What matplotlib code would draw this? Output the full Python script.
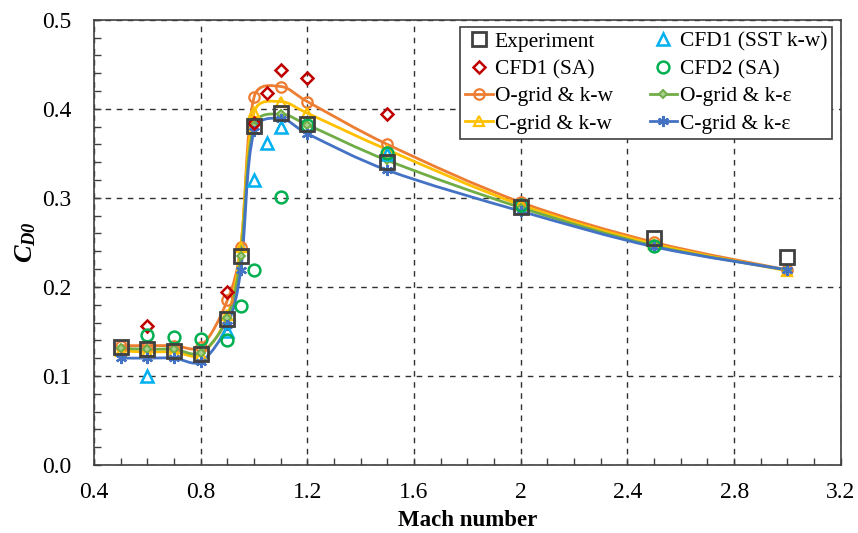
import matplotlib
matplotlib.use('Agg')
import matplotlib.pyplot as plt
import numpy as np
from matplotlib.path import Path
from matplotlib.patches import PathPatch
from matplotlib.lines import Line2D
from matplotlib.ticker import MultipleLocator

plt.rcParams['font.family'] = ['Liberation Serif', 'DejaVu Serif']
plt.rcParams['mathtext.fontset'] = 'custom'
plt.rcParams['mathtext.rm'] = 'Liberation Serif:italic:bold'
plt.rcParams['mathtext.it'] = 'Liberation Serif:italic:bold'

# 数据
mach = [0.5, 0.6, 0.7, 0.8, 0.9, 0.95, 1.0, 1.1, 1.2, 1.5, 2.0, 2.5, 3.0]
experiment = [0.133, 0.130, 0.128, 0.125, 0.164, 0.235, 0.381, 0.395, 0.383, 0.340, 0.290, 0.255, 0.234]

o_grid_kw = [0.134, 0.134, 0.134, 0.133, 0.185, 0.245, 0.413, 0.425, 0.408, 0.360, 0.295, 0.250, 0.219]
c_grid_kw = [0.128, 0.127, 0.127, 0.124, 0.168, 0.245, 0.396, 0.408, 0.395, 0.354, 0.292, 0.248, 0.218]
o_grid_ke = [0.131, 0.130, 0.130, 0.126, 0.165, 0.235, 0.381, 0.394, 0.382, 0.342, 0.289, 0.246, 0.219]
c_grid_ke = [0.120, 0.120, 0.120, 0.116, 0.157, 0.219, 0.375, 0.389, 0.372, 0.331, 0.285, 0.245, 0.219]

cfd1_sa_mach = [0.6, 0.9, 1.0, 1.05, 1.1, 1.2, 1.5]
cfd1_sa = [0.156, 0.194, 0.384, 0.418, 0.444, 0.434, 0.394]

cfd1_sst_mach = [0.6, 0.9, 1.0, 1.05, 1.1, 1.5]
cfd1_sst = [0.100, 0.151, 0.320, 0.362, 0.379, 0.349]

cfd2_sa_mach = [0.6, 0.7, 0.8, 0.9, 0.95, 1.0, 1.1, 1.2, 1.5, 2.0, 2.5]
cfd2_sa = [0.146, 0.144, 0.141, 0.140, 0.179, 0.219, 0.301, 0.382, 0.350, 0.292, 0.246]


def smooth_path(ax, xs, ys):
    """平滑曲线：三次Bezier，切线长度按屏幕上相邻线段长度调整"""
    pts = ax.transData.transform(np.column_stack([xs, ys]))
    n = len(pts)
    verts = [pts[0]]
    codes = [Path.MOVETO]
    for i in range(n - 1):
        p0 = pts[max(i - 1, 0)]
        p1 = pts[i]
        p2 = pts[i + 1]
        p3 = pts[min(i + 2, n - 1)]
        d01 = np.hypot(*(p1 - p0))
        d12 = np.hypot(*(p2 - p1))
        d23 = np.hypot(*(p3 - p2))
        f1 = np.sqrt(2 * d12 / (d01 + d12)) / 6 if d01 > 0 else 1 / 6
        f2 = np.sqrt(2 * d12 / (d12 + d23)) / 6 if d23 > 0 else 1 / 6
        c1 = p1 + (p2 - p0) * f1
        c2 = p2 - (p3 - p1) * f2
        verts += [c1, c2, p2]
        codes += [Path.CURVE4] * 3
    verts = ax.transData.inverted().transform(np.array(verts))
    return Path(verts, codes)


fig = plt.figure(figsize=(8.58, 5.33), dpi=100)
ax = fig.add_axes([0.1096, 0.1276, 0.8704, 0.8354])
ax.set_xlim(0.4, 3.2)
ax.set_ylim(0.0, 0.5)

line_styles = [
    ('O-grid & k-w', o_grid_kw, '#ED7D31', dict(marker='o', ms=7.5, mfc='none', mew=1.6)),
    ('C-grid & k-w', c_grid_kw, '#FFC000', dict(marker='^', ms=7.5, mfc='none', mew=1.6)),
    ('O-grid & k-ε', o_grid_ke, '#70AD47', dict(marker='D', ms=4, mfc='#A9D18E', mew=1.4)),
    ('C-grid & k-ε', c_grid_ke, '#4472C4', dict(marker=(6, 2, 0), ms=8, mew=1.6)),
]

handles = {}
for name, ys, color, mk in line_styles:
    ax.add_patch(PathPatch(smooth_path(ax, mach, ys), fill=False, edgecolor=color, lw=2, zorder=3))
    ax.plot(mach, ys, linestyle='none', color=color, mec=color, zorder=4, **mk)
    handles[name] = Line2D([], [], color=color, mec=color, lw=2, **mk)

scatter_styles = [
    ('CFD1 (SST k-w)', cfd1_sst_mach, cfd1_sst, '#00B0F0', dict(marker='^', ms=8, mew=1.8)),
    ('CFD1 (SA)', cfd1_sa_mach, cfd1_sa, '#C00000', dict(marker='D', ms=6, mew=1.8)),
    ('CFD2 (SA)', cfd2_sa_mach, cfd2_sa, '#00B050', dict(marker='o', ms=8.5, mew=1.8)),
    ('Experiment', mach, experiment, '#404040', dict(marker='s', ms=9.5, mew=2)),
]
for name, xs, ys, color, mk in scatter_styles:
    ax.plot(xs, ys, linestyle='none', mfc='none', mec=color, zorder=5, **mk)
    handles[name] = Line2D([], [], linestyle='none', mfc='none', mec=color, **mk)

order = ['Experiment', 'CFD1 (SA)', 'O-grid & k-w', 'C-grid & k-w',
         'CFD1 (SST k-w)', 'CFD2 (SA)', 'O-grid & k-ε', 'C-grid & k-ε']
leg = ax.legend([handles[k] for k in order], order, ncol=2, loc='upper right',
                bbox_to_anchor=(0.988, 0.984), fontsize=15.5, frameon=True, fancybox=False,
                handlelength=1.3, handletextpad=0.1, columnspacing=1.7, labelspacing=0.34,
                borderpad=0.22, borderaxespad=0)
leg.get_frame().set_edgecolor('#404040')
leg.get_frame().set_linewidth(1.2)
leg.get_frame().set_alpha(1)
leg.set_zorder(10)

ax.xaxis.set_major_locator(MultipleLocator(0.4))
ax.xaxis.set_minor_locator(MultipleLocator(0.1))
ax.yaxis.set_major_locator(MultipleLocator(0.1))
ax.yaxis.set_minor_locator(MultipleLocator(0.02))
ax.xaxis.set_major_formatter(plt.FuncFormatter(lambda v, p: f'{v:g}'))
ax.yaxis.set_major_formatter(plt.FuncFormatter(lambda v, p: f'{v:.1f}'))
ax.tick_params(which='both', direction='in', length=5, width=1, color='#404040',
               labelsize=17, top=False, right=False)
ax.tick_params(axis='x', which='major', pad=12)
ax.tick_params(axis='y', which='major', pad=16)

ax.grid(True, which='major', color='#303030', linestyle=(0, (4, 4)), linewidth=1)
for s in ax.spines.values():
    s.set_color('#404040')
    s.set_linewidth(1.2)

ax.set_xlabel('Mach number', fontsize=16.5, fontweight='bold', labelpad=5)
ax.set_ylabel('$C_{D0}$', fontsize=19, labelpad=3)

fig.savefig('out.png', dpi=100)
